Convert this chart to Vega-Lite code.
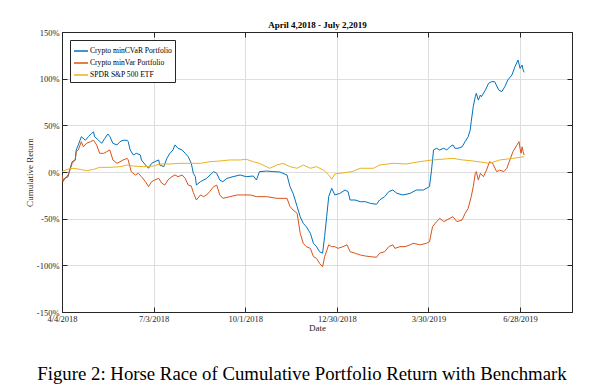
{
  "$schema": "https://vega.github.io/schema/vega-lite/v6.json",
  "width": 510,
  "height": 280,
  "autosize": {"type": "none"},
  "padding": {"left": 62, "top": 32, "right": 25, "bottom": 76},
  "background": "white",
  "title": {
    "text": "Figure 2: Horse Race of Cumulative Portfolio Return with Benchmark",
    "orient": "bottom",
    "anchor": "middle",
    "frame": "group",
    "font": "Liberation Serif",
    "fontSize": 18.8,
    "fontWeight": "normal",
    "color": "black",
    "offset": 32,
    "dx": -15
  },
  "datasets": {
    "rows": [
      {"date": "2018-04-04", "series": "Crypto minCVaR Portfolio", "value": -3},
      {"date": "2018-04-05", "series": "Crypto minCVaR Portfolio", "value": -8.6},
      {"date": "2018-04-07", "series": "Crypto minCVaR Portfolio", "value": -6.8},
      {"date": "2018-04-10", "series": "Crypto minCVaR Portfolio", "value": -5},
      {"date": "2018-04-12", "series": "Crypto minCVaR Portfolio", "value": 4},
      {"date": "2018-04-14", "series": "Crypto minCVaR Portfolio", "value": 11},
      {"date": "2018-04-17", "series": "Crypto minCVaR Portfolio", "value": 12.9},
      {"date": "2018-04-18", "series": "Crypto minCVaR Portfolio", "value": 23.6},
      {"date": "2018-04-20", "series": "Crypto minCVaR Portfolio", "value": 29},
      {"date": "2018-04-23", "series": "Crypto minCVaR Portfolio", "value": 37.8},
      {"date": "2018-04-27", "series": "Crypto minCVaR Portfolio", "value": 34},
      {"date": "2018-04-30", "series": "Crypto minCVaR Portfolio", "value": 38},
      {"date": "2018-05-03", "series": "Crypto minCVaR Portfolio", "value": 41.4},
      {"date": "2018-05-05", "series": "Crypto minCVaR Portfolio", "value": 43},
      {"date": "2018-05-06", "series": "Crypto minCVaR Portfolio", "value": 37.8},
      {"date": "2018-05-10", "series": "Crypto minCVaR Portfolio", "value": 34},
      {"date": "2018-05-13", "series": "Crypto minCVaR Portfolio", "value": 30.7},
      {"date": "2018-05-16", "series": "Crypto minCVaR Portfolio", "value": 36},
      {"date": "2018-05-19", "series": "Crypto minCVaR Portfolio", "value": 40.7},
      {"date": "2018-05-21", "series": "Crypto minCVaR Portfolio", "value": 38},
      {"date": "2018-05-24", "series": "Crypto minCVaR Portfolio", "value": 30.7},
      {"date": "2018-05-28", "series": "Crypto minCVaR Portfolio", "value": 29},
      {"date": "2018-05-31", "series": "Crypto minCVaR Portfolio", "value": 32.5},
      {"date": "2018-06-03", "series": "Crypto minCVaR Portfolio", "value": 34},
      {"date": "2018-06-07", "series": "Crypto minCVaR Portfolio", "value": 34},
      {"date": "2018-06-08", "series": "Crypto minCVaR Portfolio", "value": 32.5},
      {"date": "2018-06-10", "series": "Crypto minCVaR Portfolio", "value": 23.6},
      {"date": "2018-06-13", "series": "Crypto minCVaR Portfolio", "value": 18.2},
      {"date": "2018-06-16", "series": "Crypto minCVaR Portfolio", "value": 20},
      {"date": "2018-06-20", "series": "Crypto minCVaR Portfolio", "value": 18.2},
      {"date": "2018-06-21", "series": "Crypto minCVaR Portfolio", "value": 12.9},
      {"date": "2018-06-25", "series": "Crypto minCVaR Portfolio", "value": 7.5},
      {"date": "2018-06-28", "series": "Crypto minCVaR Portfolio", "value": 4},
      {"date": "2018-07-01", "series": "Crypto minCVaR Portfolio", "value": 9.3},
      {"date": "2018-07-04", "series": "Crypto minCVaR Portfolio", "value": 11},
      {"date": "2018-07-08", "series": "Crypto minCVaR Portfolio", "value": 12.9},
      {"date": "2018-07-09", "series": "Crypto minCVaR Portfolio", "value": 7.5},
      {"date": "2018-07-13", "series": "Crypto minCVaR Portfolio", "value": 5.7},
      {"date": "2018-07-16", "series": "Crypto minCVaR Portfolio", "value": 14.6},
      {"date": "2018-07-19", "series": "Crypto minCVaR Portfolio", "value": 20},
      {"date": "2018-07-22", "series": "Crypto minCVaR Portfolio", "value": 23.6},
      {"date": "2018-07-24", "series": "Crypto minCVaR Portfolio", "value": 29},
      {"date": "2018-07-27", "series": "Crypto minCVaR Portfolio", "value": 25.4},
      {"date": "2018-07-31", "series": "Crypto minCVaR Portfolio", "value": 23.6},
      {"date": "2018-08-03", "series": "Crypto minCVaR Portfolio", "value": 20},
      {"date": "2018-08-06", "series": "Crypto minCVaR Portfolio", "value": 16.4},
      {"date": "2018-08-09", "series": "Crypto minCVaR Portfolio", "value": 9.3},
      {"date": "2018-08-11", "series": "Crypto minCVaR Portfolio", "value": -1.4},
      {"date": "2018-08-13", "series": "Crypto minCVaR Portfolio", "value": -5},
      {"date": "2018-08-14", "series": "Crypto minCVaR Portfolio", "value": -14},
      {"date": "2018-08-18", "series": "Crypto minCVaR Portfolio", "value": -10.4},
      {"date": "2018-08-24", "series": "Crypto minCVaR Portfolio", "value": -6.8},
      {"date": "2018-08-31", "series": "Crypto minCVaR Portfolio", "value": 0.4},
      {"date": "2018-09-03", "series": "Crypto minCVaR Portfolio", "value": -1.4},
      {"date": "2018-09-06", "series": "Crypto minCVaR Portfolio", "value": -8.6},
      {"date": "2018-09-09", "series": "Crypto minCVaR Portfolio", "value": -10.4},
      {"date": "2018-09-13", "series": "Crypto minCVaR Portfolio", "value": -6.8},
      {"date": "2018-09-19", "series": "Crypto minCVaR Portfolio", "value": -5},
      {"date": "2018-09-26", "series": "Crypto minCVaR Portfolio", "value": -3.2},
      {"date": "2018-10-02", "series": "Crypto minCVaR Portfolio", "value": -5},
      {"date": "2018-10-09", "series": "Crypto minCVaR Portfolio", "value": -4.3},
      {"date": "2018-10-12", "series": "Crypto minCVaR Portfolio", "value": -8.6},
      {"date": "2018-10-15", "series": "Crypto minCVaR Portfolio", "value": 0.4},
      {"date": "2018-10-22", "series": "Crypto minCVaR Portfolio", "value": 1},
      {"date": "2018-10-29", "series": "Crypto minCVaR Portfolio", "value": 0.4},
      {"date": "2018-11-04", "series": "Crypto minCVaR Portfolio", "value": 0},
      {"date": "2018-11-11", "series": "Crypto minCVaR Portfolio", "value": -3.2},
      {"date": "2018-11-14", "series": "Crypto minCVaR Portfolio", "value": -15.7},
      {"date": "2018-11-17", "series": "Crypto minCVaR Portfolio", "value": -22.9},
      {"date": "2018-11-21", "series": "Crypto minCVaR Portfolio", "value": -37},
      {"date": "2018-11-24", "series": "Crypto minCVaR Portfolio", "value": -48},
      {"date": "2018-11-27", "series": "Crypto minCVaR Portfolio", "value": -55},
      {"date": "2018-11-30", "series": "Crypto minCVaR Portfolio", "value": -58.6},
      {"date": "2018-12-04", "series": "Crypto minCVaR Portfolio", "value": -65.7},
      {"date": "2018-12-07", "series": "Crypto minCVaR Portfolio", "value": -76.4},
      {"date": "2018-12-10", "series": "Crypto minCVaR Portfolio", "value": -80},
      {"date": "2018-12-13", "series": "Crypto minCVaR Portfolio", "value": -85.4},
      {"date": "2018-12-16", "series": "Crypto minCVaR Portfolio", "value": -87},
      {"date": "2018-12-18", "series": "Crypto minCVaR Portfolio", "value": -69},
      {"date": "2018-12-20", "series": "Crypto minCVaR Portfolio", "value": -48},
      {"date": "2018-12-22", "series": "Crypto minCVaR Portfolio", "value": -26.4},
      {"date": "2018-12-25", "series": "Crypto minCVaR Portfolio", "value": -17.5},
      {"date": "2018-12-28", "series": "Crypto minCVaR Portfolio", "value": -24.6},
      {"date": "2019-01-02", "series": "Crypto minCVaR Portfolio", "value": -22.9},
      {"date": "2019-01-07", "series": "Crypto minCVaR Portfolio", "value": -19.3},
      {"date": "2019-01-10", "series": "Crypto minCVaR Portfolio", "value": -21},
      {"date": "2019-01-12", "series": "Crypto minCVaR Portfolio", "value": -30},
      {"date": "2019-01-17", "series": "Crypto minCVaR Portfolio", "value": -30},
      {"date": "2019-01-22", "series": "Crypto minCVaR Portfolio", "value": -31.8},
      {"date": "2019-01-27", "series": "Crypto minCVaR Portfolio", "value": -31.8},
      {"date": "2019-02-01", "series": "Crypto minCVaR Portfolio", "value": -33.6},
      {"date": "2019-02-07", "series": "Crypto minCVaR Portfolio", "value": -34.6},
      {"date": "2019-02-10", "series": "Crypto minCVaR Portfolio", "value": -30},
      {"date": "2019-02-15", "series": "Crypto minCVaR Portfolio", "value": -26.4},
      {"date": "2019-02-19", "series": "Crypto minCVaR Portfolio", "value": -21},
      {"date": "2019-02-23", "series": "Crypto minCVaR Portfolio", "value": -19.3},
      {"date": "2019-02-27", "series": "Crypto minCVaR Portfolio", "value": -22.9},
      {"date": "2019-03-05", "series": "Crypto minCVaR Portfolio", "value": -24.6},
      {"date": "2019-03-12", "series": "Crypto minCVaR Portfolio", "value": -22.9},
      {"date": "2019-03-18", "series": "Crypto minCVaR Portfolio", "value": -19.3},
      {"date": "2019-03-25", "series": "Crypto minCVaR Portfolio", "value": -19.3},
      {"date": "2019-03-31", "series": "Crypto minCVaR Portfolio", "value": -15.7},
      {"date": "2019-04-02", "series": "Crypto minCVaR Portfolio", "value": 2},
      {"date": "2019-04-04", "series": "Crypto minCVaR Portfolio", "value": 23.6},
      {"date": "2019-04-07", "series": "Crypto minCVaR Portfolio", "value": 25.4},
      {"date": "2019-04-10", "series": "Crypto minCVaR Portfolio", "value": 23.6},
      {"date": "2019-04-14", "series": "Crypto minCVaR Portfolio", "value": 25.4},
      {"date": "2019-04-17", "series": "Crypto minCVaR Portfolio", "value": 23.6},
      {"date": "2019-04-20", "series": "Crypto minCVaR Portfolio", "value": 27},
      {"date": "2019-04-23", "series": "Crypto minCVaR Portfolio", "value": 29},
      {"date": "2019-04-25", "series": "Crypto minCVaR Portfolio", "value": 25.4},
      {"date": "2019-04-28", "series": "Crypto minCVaR Portfolio", "value": 25.4},
      {"date": "2019-05-02", "series": "Crypto minCVaR Portfolio", "value": 27},
      {"date": "2019-05-05", "series": "Crypto minCVaR Portfolio", "value": 32.5},
      {"date": "2019-05-08", "series": "Crypto minCVaR Portfolio", "value": 37.8},
      {"date": "2019-05-10", "series": "Crypto minCVaR Portfolio", "value": 45},
      {"date": "2019-05-11", "series": "Crypto minCVaR Portfolio", "value": 54},
      {"date": "2019-05-13", "series": "Crypto minCVaR Portfolio", "value": 70},
      {"date": "2019-05-15", "series": "Crypto minCVaR Portfolio", "value": 80.7},
      {"date": "2019-05-16", "series": "Crypto minCVaR Portfolio", "value": 84.3},
      {"date": "2019-05-18", "series": "Crypto minCVaR Portfolio", "value": 77},
      {"date": "2019-05-20", "series": "Crypto minCVaR Portfolio", "value": 82.5},
      {"date": "2019-05-21", "series": "Crypto minCVaR Portfolio", "value": 80.7},
      {"date": "2019-05-25", "series": "Crypto minCVaR Portfolio", "value": 87.9},
      {"date": "2019-05-28", "series": "Crypto minCVaR Portfolio", "value": 95},
      {"date": "2019-05-31", "series": "Crypto minCVaR Portfolio", "value": 96.8},
      {"date": "2019-06-03", "series": "Crypto minCVaR Portfolio", "value": 96.8},
      {"date": "2019-06-07", "series": "Crypto minCVaR Portfolio", "value": 87.9},
      {"date": "2019-06-10", "series": "Crypto minCVaR Portfolio", "value": 86},
      {"date": "2019-06-13", "series": "Crypto minCVaR Portfolio", "value": 91.4},
      {"date": "2019-06-16", "series": "Crypto minCVaR Portfolio", "value": 98.6},
      {"date": "2019-06-20", "series": "Crypto minCVaR Portfolio", "value": 104},
      {"date": "2019-06-23", "series": "Crypto minCVaR Portfolio", "value": 112.8},
      {"date": "2019-06-26", "series": "Crypto minCVaR Portfolio", "value": 120},
      {"date": "2019-06-28", "series": "Crypto minCVaR Portfolio", "value": 111},
      {"date": "2019-06-30", "series": "Crypto minCVaR Portfolio", "value": 114.6},
      {"date": "2019-07-01", "series": "Crypto minCVaR Portfolio", "value": 109.3},
      {"date": "2019-07-02", "series": "Crypto minCVaR Portfolio", "value": 106.8},

      {"date": "2018-04-04", "series": "Crypto minVar Portfolio", "value": -4},
      {"date": "2018-04-05", "series": "Crypto minVar Portfolio", "value": -10.4},
      {"date": "2018-04-07", "series": "Crypto minVar Portfolio", "value": -6.8},
      {"date": "2018-04-10", "series": "Crypto minVar Portfolio", "value": -3.2},
      {"date": "2018-04-14", "series": "Crypto minVar Portfolio", "value": 9.3},
      {"date": "2018-04-17", "series": "Crypto minVar Portfolio", "value": 12.9},
      {"date": "2018-04-18", "series": "Crypto minVar Portfolio", "value": 21.8},
      {"date": "2018-04-20", "series": "Crypto minVar Portfolio", "value": 23.6},
      {"date": "2018-04-23", "series": "Crypto minVar Portfolio", "value": 32.5},
      {"date": "2018-04-25", "series": "Crypto minVar Portfolio", "value": 27},
      {"date": "2018-04-28", "series": "Crypto minVar Portfolio", "value": 30.7},
      {"date": "2018-05-02", "series": "Crypto minVar Portfolio", "value": 32.5},
      {"date": "2018-05-05", "series": "Crypto minVar Portfolio", "value": 34},
      {"date": "2018-05-08", "series": "Crypto minVar Portfolio", "value": 29},
      {"date": "2018-05-11", "series": "Crypto minVar Portfolio", "value": 20},
      {"date": "2018-05-15", "series": "Crypto minVar Portfolio", "value": 20},
      {"date": "2018-05-18", "series": "Crypto minVar Portfolio", "value": 21.8},
      {"date": "2018-05-21", "series": "Crypto minVar Portfolio", "value": 23.6},
      {"date": "2018-05-24", "series": "Crypto minVar Portfolio", "value": 12.9},
      {"date": "2018-05-28", "series": "Crypto minVar Portfolio", "value": 9.3},
      {"date": "2018-05-31", "series": "Crypto minVar Portfolio", "value": 11},
      {"date": "2018-06-03", "series": "Crypto minVar Portfolio", "value": 12.9},
      {"date": "2018-06-07", "series": "Crypto minVar Portfolio", "value": 14.6},
      {"date": "2018-06-08", "series": "Crypto minVar Portfolio", "value": 12.9},
      {"date": "2018-06-11", "series": "Crypto minVar Portfolio", "value": 0.4},
      {"date": "2018-06-15", "series": "Crypto minVar Portfolio", "value": -3.2},
      {"date": "2018-06-18", "series": "Crypto minVar Portfolio", "value": -1.4},
      {"date": "2018-06-21", "series": "Crypto minVar Portfolio", "value": -5},
      {"date": "2018-06-25", "series": "Crypto minVar Portfolio", "value": -10.4},
      {"date": "2018-06-28", "series": "Crypto minVar Portfolio", "value": -15.7},
      {"date": "2018-07-01", "series": "Crypto minVar Portfolio", "value": -10.4},
      {"date": "2018-07-04", "series": "Crypto minVar Portfolio", "value": -8.6},
      {"date": "2018-07-08", "series": "Crypto minVar Portfolio", "value": -6.8},
      {"date": "2018-07-11", "series": "Crypto minVar Portfolio", "value": -12},
      {"date": "2018-07-14", "series": "Crypto minVar Portfolio", "value": -14},
      {"date": "2018-07-17", "series": "Crypto minVar Portfolio", "value": -8.6},
      {"date": "2018-07-21", "series": "Crypto minVar Portfolio", "value": -5},
      {"date": "2018-07-24", "series": "Crypto minVar Portfolio", "value": -3.2},
      {"date": "2018-07-27", "series": "Crypto minVar Portfolio", "value": -5},
      {"date": "2018-07-31", "series": "Crypto minVar Portfolio", "value": -3.2},
      {"date": "2018-08-03", "series": "Crypto minVar Portfolio", "value": -6.8},
      {"date": "2018-08-06", "series": "Crypto minVar Portfolio", "value": -14},
      {"date": "2018-08-09", "series": "Crypto minVar Portfolio", "value": -15},
      {"date": "2018-08-11", "series": "Crypto minVar Portfolio", "value": -22},
      {"date": "2018-08-14", "series": "Crypto minVar Portfolio", "value": -30},
      {"date": "2018-08-18", "series": "Crypto minVar Portfolio", "value": -24.6},
      {"date": "2018-08-21", "series": "Crypto minVar Portfolio", "value": -26.4},
      {"date": "2018-08-24", "series": "Crypto minVar Portfolio", "value": -24.6},
      {"date": "2018-08-27", "series": "Crypto minVar Portfolio", "value": -21},
      {"date": "2018-08-31", "series": "Crypto minVar Portfolio", "value": -15.7},
      {"date": "2018-09-03", "series": "Crypto minVar Portfolio", "value": -14},
      {"date": "2018-09-06", "series": "Crypto minVar Portfolio", "value": -24.6},
      {"date": "2018-09-09", "series": "Crypto minVar Portfolio", "value": -28.2},
      {"date": "2018-09-16", "series": "Crypto minVar Portfolio", "value": -26.4},
      {"date": "2018-09-23", "series": "Crypto minVar Portfolio", "value": -24.6},
      {"date": "2018-09-29", "series": "Crypto minVar Portfolio", "value": -24.6},
      {"date": "2018-10-06", "series": "Crypto minVar Portfolio", "value": -24.6},
      {"date": "2018-10-12", "series": "Crypto minVar Portfolio", "value": -26.4},
      {"date": "2018-10-22", "series": "Crypto minVar Portfolio", "value": -26.4},
      {"date": "2018-11-01", "series": "Crypto minVar Portfolio", "value": -28.2},
      {"date": "2018-11-11", "series": "Crypto minVar Portfolio", "value": -28.2},
      {"date": "2018-11-14", "series": "Crypto minVar Portfolio", "value": -37},
      {"date": "2018-11-17", "series": "Crypto minVar Portfolio", "value": -40.7},
      {"date": "2018-11-21", "series": "Crypto minVar Portfolio", "value": -44.3},
      {"date": "2018-11-24", "series": "Crypto minVar Portfolio", "value": -65.7},
      {"date": "2018-11-27", "series": "Crypto minVar Portfolio", "value": -76.4},
      {"date": "2018-11-30", "series": "Crypto minVar Portfolio", "value": -80},
      {"date": "2018-12-04", "series": "Crypto minVar Portfolio", "value": -81.8},
      {"date": "2018-12-07", "series": "Crypto minVar Portfolio", "value": -90.7},
      {"date": "2018-12-10", "series": "Crypto minVar Portfolio", "value": -92.5},
      {"date": "2018-12-13", "series": "Crypto minVar Portfolio", "value": -97.9},
      {"date": "2018-12-16", "series": "Crypto minVar Portfolio", "value": -101.4},
      {"date": "2018-12-18", "series": "Crypto minVar Portfolio", "value": -90.7},
      {"date": "2018-12-22", "series": "Crypto minVar Portfolio", "value": -78},
      {"date": "2018-12-25", "series": "Crypto minVar Portfolio", "value": -80},
      {"date": "2018-12-28", "series": "Crypto minVar Portfolio", "value": -80},
      {"date": "2018-12-31", "series": "Crypto minVar Portfolio", "value": -81.8},
      {"date": "2019-01-05", "series": "Crypto minVar Portfolio", "value": -80},
      {"date": "2019-01-09", "series": "Crypto minVar Portfolio", "value": -78},
      {"date": "2019-01-12", "series": "Crypto minVar Portfolio", "value": -85.4},
      {"date": "2019-01-17", "series": "Crypto minVar Portfolio", "value": -87.1},
      {"date": "2019-01-22", "series": "Crypto minVar Portfolio", "value": -88.9},
      {"date": "2019-01-27", "series": "Crypto minVar Portfolio", "value": -90},
      {"date": "2019-02-01", "series": "Crypto minVar Portfolio", "value": -90.7},
      {"date": "2019-02-07", "series": "Crypto minVar Portfolio", "value": -91.4},
      {"date": "2019-02-10", "series": "Crypto minVar Portfolio", "value": -87},
      {"date": "2019-02-15", "series": "Crypto minVar Portfolio", "value": -85.4},
      {"date": "2019-02-19", "series": "Crypto minVar Portfolio", "value": -80},
      {"date": "2019-02-23", "series": "Crypto minVar Portfolio", "value": -78},
      {"date": "2019-02-25", "series": "Crypto minVar Portfolio", "value": -81.8},
      {"date": "2019-03-02", "series": "Crypto minVar Portfolio", "value": -80},
      {"date": "2019-03-07", "series": "Crypto minVar Portfolio", "value": -80},
      {"date": "2019-03-12", "series": "Crypto minVar Portfolio", "value": -78},
      {"date": "2019-03-15", "series": "Crypto minVar Portfolio", "value": -76.4},
      {"date": "2019-03-22", "series": "Crypto minVar Portfolio", "value": -78},
      {"date": "2019-03-28", "series": "Crypto minVar Portfolio", "value": -76.4},
      {"date": "2019-03-31", "series": "Crypto minVar Portfolio", "value": -74.7},
      {"date": "2019-04-03", "series": "Crypto minVar Portfolio", "value": -58.6},
      {"date": "2019-04-07", "series": "Crypto minVar Portfolio", "value": -53.2},
      {"date": "2019-04-10", "series": "Crypto minVar Portfolio", "value": -49.6},
      {"date": "2019-04-14", "series": "Crypto minVar Portfolio", "value": -53.2},
      {"date": "2019-04-17", "series": "Crypto minVar Portfolio", "value": -51.4},
      {"date": "2019-04-20", "series": "Crypto minVar Portfolio", "value": -49.6},
      {"date": "2019-04-23", "series": "Crypto minVar Portfolio", "value": -47.9},
      {"date": "2019-04-27", "series": "Crypto minVar Portfolio", "value": -53.2},
      {"date": "2019-05-02", "series": "Crypto minVar Portfolio", "value": -51.4},
      {"date": "2019-05-05", "series": "Crypto minVar Portfolio", "value": -44.3},
      {"date": "2019-05-08", "series": "Crypto minVar Portfolio", "value": -39},
      {"date": "2019-05-11", "series": "Crypto minVar Portfolio", "value": -26.4},
      {"date": "2019-05-13", "series": "Crypto minVar Portfolio", "value": -15.7},
      {"date": "2019-05-15", "series": "Crypto minVar Portfolio", "value": -1.4},
      {"date": "2019-05-16", "series": "Crypto minVar Portfolio", "value": 0.4},
      {"date": "2019-05-18", "series": "Crypto minVar Portfolio", "value": -8.6},
      {"date": "2019-05-20", "series": "Crypto minVar Portfolio", "value": -1.4},
      {"date": "2019-05-23", "series": "Crypto minVar Portfolio", "value": -5},
      {"date": "2019-05-26", "series": "Crypto minVar Portfolio", "value": 2},
      {"date": "2019-05-29", "series": "Crypto minVar Portfolio", "value": 11},
      {"date": "2019-06-01", "series": "Crypto minVar Portfolio", "value": 9.3},
      {"date": "2019-06-05", "series": "Crypto minVar Portfolio", "value": 0.4},
      {"date": "2019-06-08", "series": "Crypto minVar Portfolio", "value": 2},
      {"date": "2019-06-12", "series": "Crypto minVar Portfolio", "value": 0.4},
      {"date": "2019-06-15", "series": "Crypto minVar Portfolio", "value": 4},
      {"date": "2019-06-18", "series": "Crypto minVar Portfolio", "value": 12.9},
      {"date": "2019-06-21", "series": "Crypto minVar Portfolio", "value": 21.8},
      {"date": "2019-06-25", "series": "Crypto minVar Portfolio", "value": 29},
      {"date": "2019-06-27", "series": "Crypto minVar Portfolio", "value": 32.5},
      {"date": "2019-06-28", "series": "Crypto minVar Portfolio", "value": 25},
      {"date": "2019-06-29", "series": "Crypto minVar Portfolio", "value": 20},
      {"date": "2019-06-30", "series": "Crypto minVar Portfolio", "value": 27},
      {"date": "2019-07-01", "series": "Crypto minVar Portfolio", "value": 22},
      {"date": "2019-07-02", "series": "Crypto minVar Portfolio", "value": 18.2},

      {"date": "2018-04-04", "series": "SPDR S&P 500 ETF", "value": 0.5},
      {"date": "2018-04-09", "series": "SPDR S&P 500 ETF", "value": 2.8},
      {"date": "2018-04-15", "series": "SPDR S&P 500 ETF", "value": 4},
      {"date": "2018-04-22", "series": "SPDR S&P 500 ETF", "value": 2.8},
      {"date": "2018-04-28", "series": "SPDR S&P 500 ETF", "value": 1.4},
      {"date": "2018-05-05", "series": "SPDR S&P 500 ETF", "value": 2.8},
      {"date": "2018-05-11", "series": "SPDR S&P 500 ETF", "value": 5},
      {"date": "2018-05-21", "series": "SPDR S&P 500 ETF", "value": 5},
      {"date": "2018-05-31", "series": "SPDR S&P 500 ETF", "value": 5.7},
      {"date": "2018-06-07", "series": "SPDR S&P 500 ETF", "value": 7.5},
      {"date": "2018-06-13", "series": "SPDR S&P 500 ETF", "value": 6.4},
      {"date": "2018-06-23", "series": "SPDR S&P 500 ETF", "value": 5.7},
      {"date": "2018-07-03", "series": "SPDR S&P 500 ETF", "value": 6.4},
      {"date": "2018-07-09", "series": "SPDR S&P 500 ETF", "value": 8.6},
      {"date": "2018-07-19", "series": "SPDR S&P 500 ETF", "value": 8.6},
      {"date": "2018-07-29", "series": "SPDR S&P 500 ETF", "value": 9.3},
      {"date": "2018-08-08", "series": "SPDR S&P 500 ETF", "value": 9.3},
      {"date": "2018-08-18", "series": "SPDR S&P 500 ETF", "value": 9.3},
      {"date": "2018-08-27", "series": "SPDR S&P 500 ETF", "value": 11},
      {"date": "2018-09-06", "series": "SPDR S&P 500 ETF", "value": 11.8},
      {"date": "2018-09-16", "series": "SPDR S&P 500 ETF", "value": 12.9},
      {"date": "2018-09-26", "series": "SPDR S&P 500 ETF", "value": 12.9},
      {"date": "2018-10-02", "series": "SPDR S&P 500 ETF", "value": 13.6},
      {"date": "2018-10-09", "series": "SPDR S&P 500 ETF", "value": 11},
      {"date": "2018-10-15", "series": "SPDR S&P 500 ETF", "value": 9.3},
      {"date": "2018-10-25", "series": "SPDR S&P 500 ETF", "value": 4},
      {"date": "2018-11-01", "series": "SPDR S&P 500 ETF", "value": 7.5},
      {"date": "2018-11-07", "series": "SPDR S&P 500 ETF", "value": 9.3},
      {"date": "2018-11-14", "series": "SPDR S&P 500 ETF", "value": 5.7},
      {"date": "2018-11-21", "series": "SPDR S&P 500 ETF", "value": 4},
      {"date": "2018-11-27", "series": "SPDR S&P 500 ETF", "value": 7.5},
      {"date": "2018-12-04", "series": "SPDR S&P 500 ETF", "value": 4},
      {"date": "2018-12-10", "series": "SPDR S&P 500 ETF", "value": 5.7},
      {"date": "2018-12-17", "series": "SPDR S&P 500 ETF", "value": 2},
      {"date": "2018-12-22", "series": "SPDR S&P 500 ETF", "value": -3.2},
      {"date": "2018-12-25", "series": "SPDR S&P 500 ETF", "value": -7.8},
      {"date": "2018-12-28", "series": "SPDR S&P 500 ETF", "value": -2.1},
      {"date": "2019-01-02", "series": "SPDR S&P 500 ETF", "value": -1.4},
      {"date": "2019-01-14", "series": "SPDR S&P 500 ETF", "value": 0.4},
      {"date": "2019-01-22", "series": "SPDR S&P 500 ETF", "value": 4},
      {"date": "2019-02-04", "series": "SPDR S&P 500 ETF", "value": 4},
      {"date": "2019-02-10", "series": "SPDR S&P 500 ETF", "value": 7.5},
      {"date": "2019-02-23", "series": "SPDR S&P 500 ETF", "value": 9.3},
      {"date": "2019-03-08", "series": "SPDR S&P 500 ETF", "value": 8.6},
      {"date": "2019-03-21", "series": "SPDR S&P 500 ETF", "value": 11},
      {"date": "2019-04-03", "series": "SPDR S&P 500 ETF", "value": 12.9},
      {"date": "2019-04-23", "series": "SPDR S&P 500 ETF", "value": 14.6},
      {"date": "2019-05-02", "series": "SPDR S&P 500 ETF", "value": 13},
      {"date": "2019-05-13", "series": "SPDR S&P 500 ETF", "value": 11.8},
      {"date": "2019-05-29", "series": "SPDR S&P 500 ETF", "value": 9.3},
      {"date": "2019-06-08", "series": "SPDR S&P 500 ETF", "value": 12.9},
      {"date": "2019-06-21", "series": "SPDR S&P 500 ETF", "value": 14.6},
      {"date": "2019-07-02", "series": "SPDR S&P 500 ETF", "value": 16.4}
    ]
  },
  "data": {"name": "rows"},
  "layer": [
    {
      "mark": {"type": "line", "strokeOpacity": 0},
      "encoding": {
        "x": {
          "field": "date",
          "type": "temporal",
          "axis": {
            "orient": "top",
            "labels": false,
            "grid": false,
            "tickSize": -5,
            "values": [
              {"year": 2018, "month": 4, "date": 4, "utc": true},
              {"year": 2018, "month": 7, "date": 3, "utc": true},
              {"year": 2018, "month": 10, "date": 1, "utc": true},
              {"year": 2018, "month": 12, "date": 30, "utc": true},
              {"year": 2019, "month": 3, "date": 30, "utc": true},
              {"year": 2019, "month": 6, "date": 28, "utc": true}
            ],
            "title": "April 4,2018 - July 2,2019",
            "titleFont": "Liberation Serif",
            "titleFontSize": 9,
            "titleFontWeight": "bold",
            "titleColor": "black",
            "titlePadding": 2
          }
        },
        "y": {
          "field": "value",
          "type": "quantitative",
          "axis": {
            "orient": "right",
            "labels": false,
            "grid": false,
            "tickSize": -5,
            "values": [-150, -100, -50, 0, 50, 100, 150],
            "title": null
          }
        }
      }
    },
    {
      "mark": {"type": "line", "strokeWidth": 1, "clip": true},
      "encoding": {
        "x": {
          "field": "date",
          "type": "temporal",
          "scale": {
            "type": "utc",
            "domain": [
              {"year": 2018, "month": 4, "date": 4, "utc": true},
              {"year": 2019, "month": 8, "date": 18, "utc": true}
            ]
          },
          "axis": {
            "orient": "bottom",
            "format": "%-m/%-d/%Y",
            "grid": true,
            "values": [
              {"year": 2018, "month": 4, "date": 4, "utc": true},
              {"year": 2018, "month": 7, "date": 3, "utc": true},
              {"year": 2018, "month": 10, "date": 1, "utc": true},
              {"year": 2018, "month": 12, "date": 30, "utc": true},
              {"year": 2019, "month": 3, "date": 30, "utc": true},
              {"year": 2019, "month": 6, "date": 28, "utc": true}
            ],
            "tickSize": -5,
            "labelPadding": 7,
            "title": "Date",
            "titlePadding": 1
          }
        },
        "y": {
          "field": "value",
          "type": "quantitative",
          "scale": {"domain": [-150, 150], "nice": false, "zero": false},
          "axis": {
            "orient": "left",
            "grid": true,
            "values": [-150, -100, -50, 0, 50, 100, 150],
            "labelExpr": "datum.value + '%'",
            "tickSize": -5,
            "labelPadding": 8,
            "title": "Cumulative Return",
            "titlePadding": 2
          }
        },
        "color": {
          "field": "series",
          "type": "nominal",
          "sort": null,
          "scale": {
            "domain": ["Crypto minCVaR Portfolio", "Crypto minVar Portfolio", "SPDR S&P 500 ETF"],
            "range": ["#0072BD", "#D95319", "#EDB120"]
          },
          "legend": {
            "title": null,
            "orient": "top-left",
            "offset": 7.5
          }
        }
      }
    }
  ],
  "config": {
    "view": {"stroke": "#262626", "strokeWidth": 1},
    "axis": {
      "domainColor": "#262626",
      "domainWidth": 1,
      "tickColor": "#262626",
      "tickWidth": 1,
      "gridColor": "#dedede",
      "gridWidth": 1,
      "labelFont": "Liberation Serif",
      "labelFontSize": 8.5,
      "labelColor": "#262626",
      "labelOverlap": false,
      "labelFlush": false,
      "titleFont": "Liberation Serif",
      "titleFontSize": 9,
      "titleFontWeight": "normal",
      "titleColor": "#262626"
    },
    "legend": {
      "symbolType": "stroke",
      "symbolSize": 196,
      "symbolStrokeWidth": 1.5,
      "labelFont": "Liberation Serif",
      "labelFontSize": 7.6,
      "labelColor": "black",
      "labelOffset": 1,
      "padding": 3,
      "rowPadding": -6,
      "fillColor": "white",
      "strokeColor": "#262626",
      "cornerRadius": 0
    }
  }
}
